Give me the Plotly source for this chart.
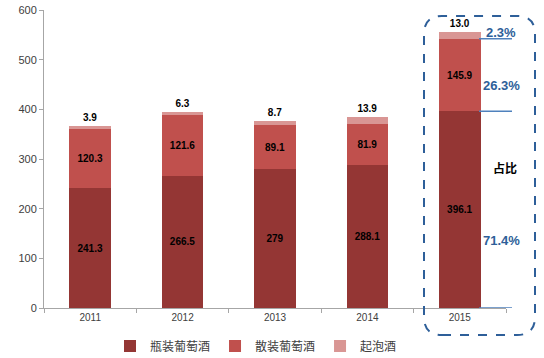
import plotly.graph_objects as go

years = ["2011", "2012", "2013", "2014", "2015"]
bottled = [241.3, 266.5, 279, 288.1, 396.1]
bulk = [120.3, 121.6, 89.1, 81.9, 145.9]
sparkling = [3.9, 6.3, 8.7, 13.9, 13.0]
series_names = ["瓶装葡萄酒", "散装葡萄酒", "起泡酒"]
bottled_labels = ["241.3", "266.5", "279", "288.1", "396.1"]
bulk_labels = ["120.3", "121.6", "89.1", "81.9", "145.9"]
sparkling_labels = ["3.9", "6.3", "8.7", "13.9", "13.0"]
share_labels = ["2.3%", "26.3%", "71.4%"]
share_title = "占比"

colors = ["#943634", "#C0504D", "#D99694"]
font_fam = "Liberation Sans, Noto Sans CJK SC, sans-serif"
lab_family = "Liberation Sans, sans-serif"

fig = go.Figure()
for vals, labs, name, col, pos in [
    (bottled, bottled_labels, series_names[0], colors[0], "inside"),
    (bulk, bulk_labels, series_names[1], colors[1], "inside"),
    (sparkling, sparkling_labels, series_names[2], colors[2], "outside"),
]:
    fig.add_trace(go.Bar(x=years, y=vals, name=name, marker_color=col,
                         marker_line_width=0,
                         text=labs, textposition=pos, insidetextanchor="middle",
                         textangle=0, constraintext="none", cliponaxis=False,
                         textfont=dict(family=lab_family, size=10, color="#000000", weight="bold"),
                         width=0.45))

W, H = 544, 358
L, R, T, B = 44, 38, 10, 50
pw, ph = W - L - R, H - T - B

def px(x):
    return (x - L) / pw

def py(y):
    return (H - B - y) / ph

blue = "#2E5F99"
x0, x1, y0, y1 = px(424), px(535), py(335), py(16)
rx, ry = 18 / pw, 18 / ph
path = (f"M {x0+rx},{y0} L {x1-rx},{y0} Q {x1},{y0} {x1},{y0+ry} "
        f"L {x1},{y1-ry} Q {x1},{y1} {x1-rx},{y1} L {x0+rx},{y1} "
        f"Q {x0},{y1} {x0},{y1-ry} L {x0},{y0+ry} Q {x0},{y0} {x0+rx},{y0} Z")
shapes = [dict(type="path", path=path, xref="paper", yref="paper",
               line=dict(color=blue, width=2, dash="dash"))]
boundaries = [bottled[4] + bulk[4], bottled[4], 0]
for b in boundaries:
    shapes.append(dict(type="line", xref="paper", yref="y", x0=px(479), x1=px(512),
                       y0=b, y1=b, line=dict(color="#4F81BD", width=1.5)))

annotations = []
for lbl, yy in zip(share_labels, [32, 86, 241]):
    annotations.append(dict(x=px(501), y=py(yy), xref="paper", yref="paper", text=lbl,
                            xanchor="center", yanchor="middle", showarrow=False,
                            font=dict(family=font_fam, size=13, color=blue, weight="bold")))
annotations.append(dict(x=px(505), y=py(167), xref="paper", yref="paper", text=share_title,
                        xanchor="center", yanchor="middle", showarrow=False,
                        font=dict(family="Noto Sans CJK SC", size=12, color="#000000", weight="bold")))

fig.update_layout(
    barmode="stack",
    width=W, height=H, autosize=False,
    margin=dict(l=L, r=R, t=T, b=B, autoexpand=False),
    plot_bgcolor="white", paper_bgcolor="white",
    font=dict(family=font_fam, size=10, color="#404040"),
    shapes=shapes, annotations=annotations,
    showlegend=True,
    legend=dict(orientation="h", x=px(256), xanchor="center", y=py(346), yanchor="middle",
                font=dict(family="Noto Sans CJK SC", size=12, color="#404040"),
                itemwidth=30, traceorder="normal", tracegroupgap=0, bgcolor="rgba(0,0,0,0)"),
)
fig.update_xaxes(showline=True, linecolor="#A6A6A6", linewidth=1, ticks="outside",
                 tickson="boundaries", ticklen=4, tickcolor="#A6A6A6", showgrid=False,
                 automargin=False, tickfont=dict(size=10, color="#404040"))
fig.update_yaxes(range=[0, 600], dtick=100, showline=True, linecolor="#A6A6A6", linewidth=1,
                 ticks="outside", ticklen=4, tickcolor="#A6A6A6", showgrid=False, zeroline=False,
                 automargin=False, tickfont=dict(size=11, color="#404040"))

fig.write_html("out.html", config={"displayModeBar": False},
               post_script="document.body.style.margin='0';")
